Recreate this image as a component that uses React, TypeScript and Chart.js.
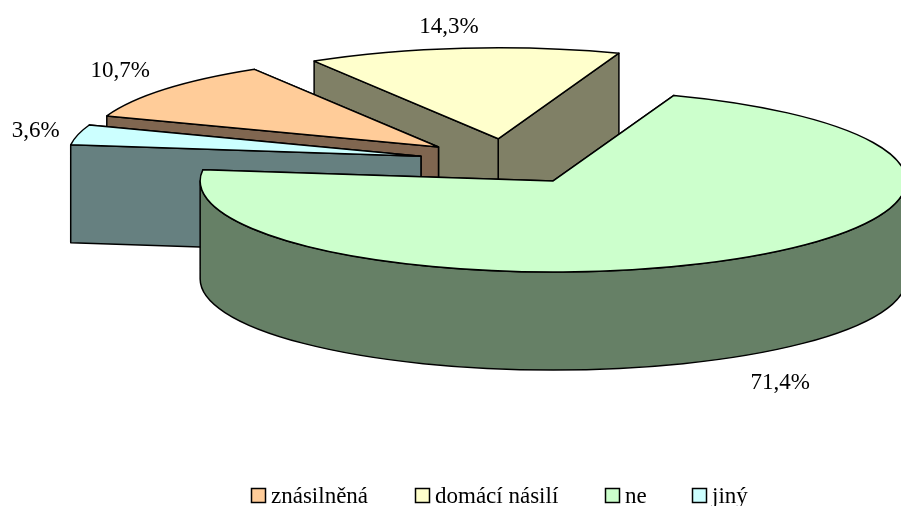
import React, { useEffect, useRef } from "react";
import { Chart, registerables } from "chart.js";

Chart.register(...registerables);

const categories = ["znásilněná", "domácí násilí", "ne", "jiný"];
const counts = [3, 4, 20, 1];
const topColors = ["#FFCC99", "#FFFFCC", "#CCFFCC", "#CCFFFF"];
const wallColors = ["#806650", "#808066", "#668066", "#668080"];

const FONT = '23px "Liberation Serif", "Times New Roman", serif';
const TILT = 0.258;
const DEPTH = 98;
const labelNudges = [
  [-45, -18],
  [-14, -21],
  [43, 26],
  [-42, -4],
];
const legendColumns = [251, 415, 605, 692];

const pie3d = {
  id: "pie3d",
  beforeDatasetDraw(chart: any) {
    const { ctx } = chart;
    const arcs = chart.getDatasetMeta(0).data;
    const items = arcs.map((arc: any, i: number) => {
      const off = arc.options.offset || 0;
      const mid = (arc.startAngle + arc.endAngle) / 2;
      return {
        i,
        arc,
        mid,
        r: arc.outerRadius,
        cx: arc.x + Math.cos(mid) * off,
        cy: arc.y + Math.sin(mid) * off * TILT,
      };
    });
    items.sort((a: any, b: any) => a.cy - b.cy);

    ctx.save();
    ctx.lineWidth = 1.5;
    ctx.lineJoin = "round";
    ctx.strokeStyle = "#000";
    const pt = (s: any, a: number) => [s.cx + Math.cos(a) * s.r, s.cy + Math.sin(a) * s.r * TILT];

    for (const s of items) {
      const a0 = s.arc.startAngle;
      const a1 = s.arc.endAngle;
      ctx.fillStyle = wallColors[s.i];
      const faces = [a0, a1]
        .map((a) => ({ a, p: pt(s, a) }))
        .sort((u, v) => u.p[1] - v.p[1]);
      for (const f of faces) {
        ctx.beginPath();
        ctx.moveTo(s.cx, s.cy);
        ctx.lineTo(f.p[0], f.p[1]);
        ctx.lineTo(f.p[0], f.p[1] + DEPTH);
        ctx.lineTo(s.cx, s.cy + DEPTH);
        ctx.closePath();
        ctx.fill();
        ctx.stroke();
      }
      // outer rim: only the part of the arc that faces the viewer
      const turn = Math.PI * 2;
      for (const k of [-1, 0, 1]) {
        const from = Math.max(a0, k * turn);
        const to = Math.min(a1, k * turn + Math.PI);
        if (to <= from) continue;
        ctx.beginPath();
        ctx.ellipse(s.cx, s.cy, s.r, s.r * TILT, 0, from, to);
        ctx.ellipse(s.cx, s.cy + DEPTH, s.r, s.r * TILT, 0, to, from, true);
        ctx.closePath();
        ctx.fill();
        ctx.stroke();
      }
      ctx.fillStyle = topColors[s.i];
      ctx.beginPath();
      ctx.moveTo(s.cx, s.cy);
      ctx.ellipse(s.cx, s.cy, s.r, s.r * TILT, 0, a0, a1);
      ctx.closePath();
      ctx.fill();
      ctx.stroke();
    }

    const total = counts.reduce((x, y) => x + y, 0);
    ctx.fillStyle = "#000";
    ctx.font = FONT;
    ctx.textAlign = "center";
    ctx.textBaseline = "middle";
    for (const s of items) {
      const p = pt(s, s.mid);
      const below = Math.sin(s.mid) > 0 ? DEPTH : 0;
      const text = ((counts[s.i] / total) * 100).toFixed(1).replace(".", ",") + "%";
      ctx.fillText(text, p[0] + labelNudges[s.i][0], p[1] + below + labelNudges[s.i][1]);
    }
    ctx.restore();
    return false;
  },
  afterDraw(chart: any) {
    const { ctx } = chart;
    ctx.save();
    ctx.font = FONT;
    ctx.textAlign = "left";
    ctx.textBaseline = "alphabetic";
    ctx.lineWidth = 1.5;
    ctx.strokeStyle = "#000";
    categories.forEach((name, i) => {
      const x = legendColumns[i];
      ctx.fillStyle = topColors[i];
      ctx.fillRect(x + 0.5, 488.5, 14, 14);
      ctx.strokeRect(x + 0.5, 488.5, 14, 14);
      ctx.fillStyle = "#000";
      ctx.fillText(name, x + 20, 503);
    });
    ctx.restore();
  },
};

export default function App() {
  const ref = useRef<HTMLCanvasElement>(null);
  useEffect(() => {
    const chart = new Chart(ref.current as HTMLCanvasElement, {
      type: "pie",
      data: {
        labels: categories,
        datasets: [
          {
            data: counts,
            backgroundColor: topColors,
            borderColor: "#000",
            borderWidth: 1,
            offset: 88.5,
          },
        ],
      },
      options: {
        responsive: false,
        animation: false,
        rotation: 290,
        radius: 353,
        layout: { padding: { left: 113, bottom: 183 } },
        plugins: { legend: { display: false }, tooltip: { enabled: false } },
      },
      plugins: [pie3d],
    } as any);
    return () => chart.destroy();
  }, []);
  return (
    <canvas
      ref={ref}
      width={901}
      height={506}
      style={{ position: "fixed", left: 0, top: 0, width: 901, height: 506, display: "block" }}
    />
  );
}
